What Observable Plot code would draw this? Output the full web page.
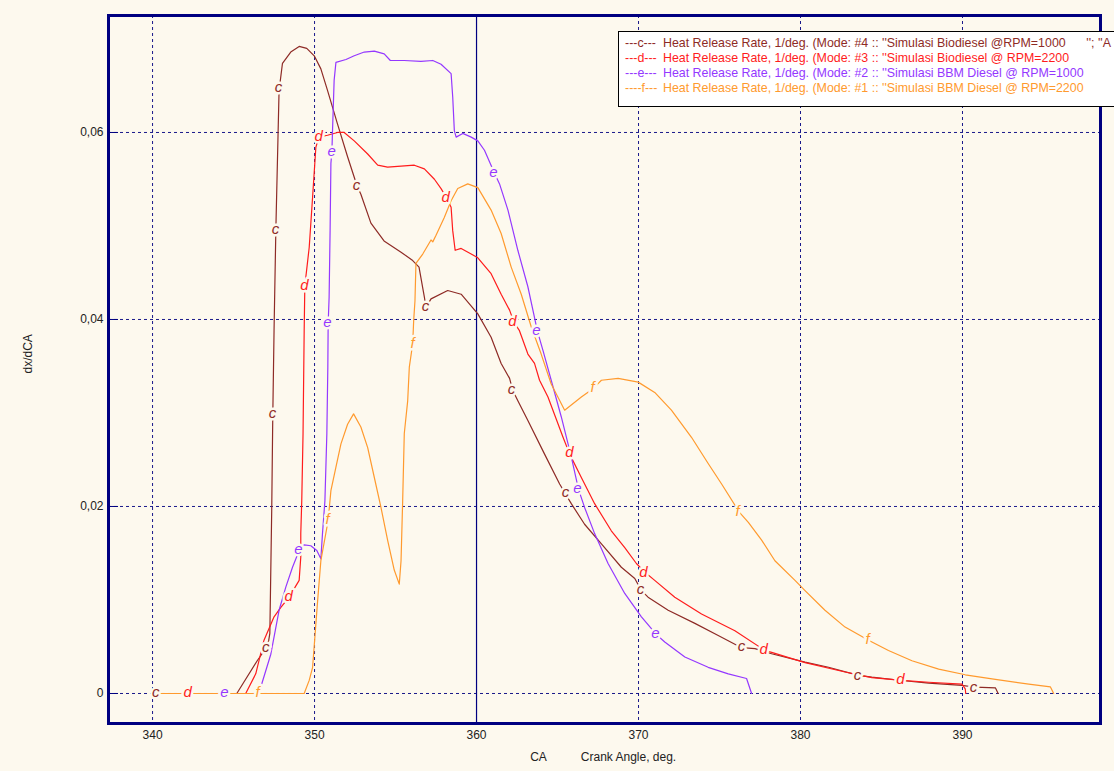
<!DOCTYPE html>
<html>
<head>
<meta charset="utf-8">
<script src="https://cdn.jsdelivr.net/npm/d3@7"></script>
<script src="https://cdn.jsdelivr.net/npm/@observablehq/plot@0.6"></script>
<style>
  html, body { margin: 0; padding: 0; background: #fdf9ee; overflow: hidden; }
  #wrap { position: relative; width: 1114px; height: 771px; overflow: hidden; font-family: "Liberation Sans", Arial, sans-serif; }
  #legend { position: absolute; left: 618px; top: 31px; width: 520px; height: 74px; background: #ffffff; border: 1px solid #000; font-size: 12.4px; white-space: pre; }
  #legend div { position: absolute; left: 6px; height: 15px; line-height: 15px; }
  #legend span.p { display: inline-block; width: 38px; }
</style>
</head>
<body>
<div id="wrap"></div>
<script>
// ---- Data (crank angle, deg. ; heat release rate dx/dCA) ----
const caC = [340,345.0,345.2,346.47,346.99,347.17,347.24,347.36,347.42,347.5,347.61,347.81,348.02,348.53,349.05,349.52,349.98,350.39,350.8,351.42,352.04,352.62,352.86,353.48,354.29,355.34,356.06,356.45,356.78,356.88,357.19,358.22,359.05,360.08,360.9,361.52,362.04,362.24,362.55,363.17,364.2,365.13,365.54,365.85,366.67,367.71,368.94,369.77,370.18,370.59,371.83,373.48,374.92,376.36,377.19,378.22,380.28,381.73,383.58,384.4,386.26,387.91,389.97,390.79,392.03,392.2];
const vC  = [0,0,0,0.00353,0.00481,0.00567,0.00642,0.0201,0.0295,0.0388,0.0495,0.0645,0.0674,0.0686,0.0692,0.069,0.0682,0.0668,0.0645,0.0609,0.0574,0.0543,0.0534,0.0503,0.0484,0.0472,0.0463,0.0456,0.0424,0.0413,0.0422,0.0431,0.0427,0.0406,0.0381,0.0353,0.0337,0.0324,0.0313,0.0292,0.0256,0.0224,0.0212,0.0203,0.0181,0.016,0.0135,0.0123,0.011,0.0103,0.0089,0.0075,0.0062,0.0049,0.0048,0.00425,0.00335,0.00281,0.00193,0.00174,0.00139,0.0011,0.00086,0.00067,0.00061,0];

const caD = [340,345.75,346.37,346.88,347.5,347.92,348.43,349.05,349.15,349.15,349.21,349.29,349.36,349.4,349.67,349.88,350.08,350.27,350.8,351.42,351.83,352.45,353.28,353.9,354.51,355.34,356.16,356.78,357.4,357.81,358.12,358.43,358.53,358.68,359.05,359.67,360.08,360.9,361.52,362.04,362.31,362.65,363.17,363.58,363.89,364.41,365.34,365.75,366.47,367.29,368.32,369.15,369.87,370.38,371.0,372.24,373.89,375.95,377.8,378.22,380.28,382.75,384.4,386.26,387.91,389.97,390.17,390.2];
const vD  = [0,0,0.0021,0.0057,0.0082,0.0092,0.0103,0.0121,0.0146,0.0171,0.0206,0.0278,0.0388,0.0436,0.0477,0.0531,0.0584,0.0595,0.0597,0.06,0.06,0.0591,0.0577,0.0565,0.0563,0.0564,0.0565,0.0561,0.055,0.054,0.0531,0.052,0.0495,0.0474,0.0476,0.047,0.0466,0.0449,0.0427,0.041,0.0397,0.0388,0.0363,0.0353,0.0335,0.0317,0.0274,0.0256,0.0231,0.0203,0.0174,0.0156,0.0139,0.013,0.0121,0.0103,0.0085,0.0067,0.0046,0.0044,0.0033,0.0023,0.0017,0.0014,0.0012,0.001,0.0005,0];

const caE = [340,346.56,347.3,347.81,348.23,348.64,349.05,349.36,349.77,350.14,350.39,350.49,350.64,350.76,350.82,350.84,350.9,350.96,351.01,351.07,351.11,351.21,351.32,351.94,352.45,353.07,353.69,354.3,354.68,355.54,356.57,357.3,357.81,358.43,358.53,358.63,358.74,359.15,359.67,360.08,360.49,361.07,361.42,361.94,362.55,363.17,363.58,363.75,364.1,364.61,365.23,365.85,366.3,366.67,367.29,368.12,369.15,370.18,371.11,371.62,372.86,374.3,375.54,376.67,376.98];
const vE  = [0,0,0.0042,0.0089,0.0114,0.0135,0.0153,0.0159,0.0158,0.0153,0.0144,0.0171,0.0206,0.0278,0.0349,0.0395,0.0424,0.0495,0.0567,0.0579,0.0602,0.0656,0.0675,0.0678,0.0682,0.0686,0.0687,0.0684,0.0677,0.0677,0.0676,0.0677,0.0673,0.0663,0.0638,0.0602,0.0595,0.0599,0.0595,0.0591,0.0581,0.0558,0.0545,0.0517,0.0474,0.0435,0.0402,0.0388,0.0367,0.0335,0.0296,0.0253,0.0218,0.0199,0.0171,0.0139,0.0107,0.0082,0.0063,0.0055,0.0039,0.0028,0.0021,0.0016,0];

const caF = [340,349.36,349.67,349.88,350.19,350.39,350.84,351.01,351.32,351.63,352.04,352.41,352.86,353.28,353.69,354.1,354.51,354.92,355.23,355.34,355.44,355.54,355.75,355.85,356.06,356.12,356.2,356.26,356.68,357.19,357.3,357.5,358.01,358.43,358.84,359.46,360.08,360.9,361.52,362.14,362.76,363.38,363.99,364.61,365.44,366.47,367.19,367.71,368.74,369.98,371.0,372.03,373.27,374.3,375.13,376.22,376.78,377.6,378.42,379.66,380.28,381.51,382.75,384.2,385.43,386.88,388.53,390.17,392.03,394.09,395.43,395.63];
const vF  = [0,0,0.0014,0.0028,0.0099,0.0142,0.0185,0.0217,0.0242,0.0267,0.0288,0.0299,0.0285,0.0263,0.0231,0.0199,0.0164,0.0132,0.0117,0.0142,0.0206,0.0278,0.0313,0.0349,0.0374,0.0399,0.042,0.046,0.047,0.0485,0.0483,0.049,0.0509,0.0527,0.054,0.0545,0.0541,0.0517,0.0492,0.0456,0.0427,0.0392,0.0363,0.0331,0.0303,0.0317,0.0326,0.0335,0.0337,0.0333,0.0322,0.0303,0.0274,0.0246,0.0224,0.0194,0.0183,0.0164,0.0142,0.0121,0.011,0.0089,0.0071,0.0057,0.0046,0.0035,0.0026,0.002,0.0015,0.001,0.0007,0];

// curve marker letters (positions on the curves)
const labCaC = [340.19,347.78,347.59,347.41,346.98,352.59,356.85,362.16,365.49,370.12,376.36,383.52,390.68];
const labVC  = [0,0.0647,0.0495,0.0299,0.0048,0.0543,0.0413,0.0324,0.0214,0.011,0.0049,0.0019,0.0006];
const labCaD = [342.16,350.25,349.38,348.4,358.09,362.22,365.74,370.31,377.72,386.17];
const labVD  = [0,0.0595,0.0436,0.0103,0.053,0.0397,0.0257,0.0129,0.0046,0.0014];
const labCaE = [344.44,349.01,350.8,351.05,361.05,363.7,366.23,371.05];
const labVE  = [0,0.0153,0.0396,0.0579,0.0556,0.0388,0.0218,0.0063];
const labCaF = [346.48,350.8,356.05,367.16,376.11,384.14];
const labVF  = [0,0.0185,0.0374,0.0326,0.0194,0.0057];

const seriesKeys = ["c","d","e","f"];
const seriesColors = ["#8e2b26","#ff1c1c","#9438ff","#ff9a2e"];
const legendPrefix = ["---c---","---d---","---e---","----f---"];
const legendText = [
  "Heat Release Rate, 1/deg. (Mode: #4 :: ''Simulasi Biodiesel @RPM=1000      ''; ''A",
  "Heat Release Rate, 1/deg. (Mode: #3 :: ''Simulasi Biodiesel @ RPM=2200",
  "Heat Release Rate, 1/deg. (Mode: #2 :: ''Simulasi BBM Diesel @ RPM=1000",
  "Heat Release Rate, 1/deg. (Mode: #1 :: ''Simulasi BBM Diesel @ RPM=2200"
];
const xTicks = [340,350,360,370,380,390];
const xGridDashed = [340,350,370,380,390];
const xGridSolid = [360];
const yTicks = [0,0.02,0.04,0.06];

// ---- build tables ----
const cas = [caC, caD, caE, caF], vs = [vC, vD, vE, vF];
const labCas = [labCaC, labCaD, labCaE, labCaF], labVs = [labVC, labVD, labVE, labVF];
const lines = [], labels = [];
seriesKeys.forEach((k, i) => {
  cas[i].forEach((x, j) => lines.push({s: k, x, y: vs[i][j]}));
  labCas[i].forEach((x, j) => labels.push({s: k, x, y: labVs[i][j]}));
});

const bg = "#fdf9ee";
const navy = "#000080";
const xDomain = [337.28, 398.52];
const yDomain = [-0.00321, 0.07251];

const plot = Plot.plot({
  width: 1114,
  height: 771,
  marginLeft: 108,
  marginRight: 14,
  marginTop: 15,
  marginBottom: 48,
  style: {background: bg, fontFamily: "'Liberation Sans', Arial, sans-serif", fontSize: "12px", color: "#222"},
  x: {domain: xDomain, label: null},
  y: {domain: yDomain, label: null},
  color: {domain: seriesKeys, range: seriesColors},
  marks: [
    Plot.ruleX(xGridDashed, {stroke: navy, strokeWidth: 1, strokeDasharray: "3,3", strokeOpacity: 0.9}),
    Plot.ruleX(xGridSolid, {stroke: navy, strokeWidth: 1.2}),
    Plot.ruleY(yTicks, {stroke: navy, strokeWidth: 1, strokeDasharray: "3,3", strokeOpacity: 0.9}),
    Plot.ruleY(yTicks, {x1: xDomain[0], x2: xDomain[0] + 0.62, stroke: navy, strokeWidth: 1}),
    Plot.line(lines, {x: "x", y: "y", z: "s", stroke: "s", strokeWidth: 1.2, curve: "linear"}),
    Plot.text(labels, {x: "x", y: "y", text: "s", fill: "s", stroke: bg, strokeWidth: 5, paintOrder: "stroke",
      fontSize: 15, fontStyle: "italic", fontFamily: "'Liberation Sans', Arial, sans-serif", dy: -1}),
    Plot.frame({stroke: navy, strokeWidth: 3}),
    Plot.axisX(xTicks, {tickSize: 0, tickPadding: 7, fontSize: 12, fill: "#222", label: null}),
    Plot.axisY(yTicks, {tickSize: 0, tickPadding: 5, fontSize: 12, fill: "#222", label: null,
      tickFormat: d => d === 0 ? "0" : d.toFixed(2).replace(".", ",")}),
    Plot.text(["CA"], {frameAnchor: "bottom", dx: -66, dy: 37, fontSize: 12, fill: "#222"}),
    Plot.text(["Crank Angle, deg."], {frameAnchor: "bottom", dx: 24, dy: 37, fontSize: 12, fill: "#222"}),
    Plot.text(["dx/dCA"], {frameAnchor: "left", dx: -80, dy: 4, rotate: -90, fontSize: 12, fill: "#222"})
  ]
});

const wrap = document.getElementById("wrap");
wrap.appendChild(plot);

// legend box (inside plot area, top right, clipped by the page edge)
const leg = document.createElement("div");
leg.id = "legend";
seriesKeys.forEach((k, i) => {
  const row = document.createElement("div");
  row.style.top = (4 + i * 15) + "px";
  row.style.color = seriesColors[i];
  const p = document.createElement("span");
  p.className = "p";
  p.textContent = legendPrefix[i];
  const t = document.createElement("span");
  t.textContent = legendText[i];
  row.appendChild(p);
  row.appendChild(t);
  leg.appendChild(row);
});
wrap.appendChild(leg);
</script>
</body>
</html>
